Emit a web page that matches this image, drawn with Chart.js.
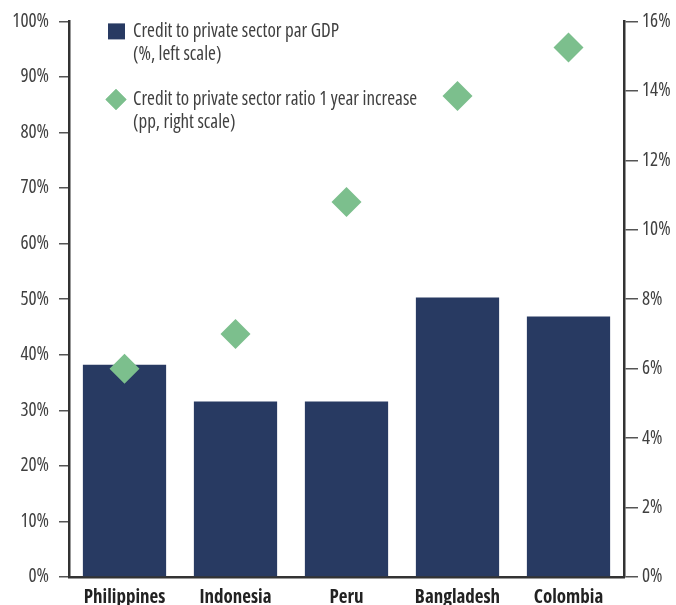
<!DOCTYPE html>
<html>
<head>
<meta charset="utf-8">
<script src="https://cdn.jsdelivr.net/npm/chart.js@4.4.0/dist/chart.umd.min.js"></script>
<style>
    html, body { margin: 0; padding: 0; background: #fff; overflow: hidden; }
    #wrap { position: relative; width: 676px; height: 605px; }
</style>
</head>
<body>
<div id="wrap"><canvas id="creditChart"></canvas></div>
<script>
// Data
const countries = ['Philippines', 'Indonesia', 'Peru', 'Bangladesh', 'Colombia'];
const creditToGdp = [38.2, 31.6, 31.6, 50.3, 46.9];        // % of GDP, left scale
const creditIncrease = [6.0, 7.0, 10.8, 13.85, 15.25];     // pp, right scale
const leftTicks = [0, 10, 20, 30, 40, 50, 60, 70, 80, 90, 100];
const rightTicks = [0, 2, 4, 6, 8, 10, 12, 14, 16];
const legendLabels = [
    ['Credit to private sector par GDP', '(%, left scale)'],
    ['Credit to private sector ratio 1 year increase', '(pp, right scale)']
];

const NAVY = '#283a62';
const GREEN = '#7cbf8d';
const TEXT = '#404040';
const FONT = "'Open Sans', sans-serif";

// Legend drawn inside the plot, top-left, with two-line labels
const insideLegend = {
    id: 'insideLegend',
    afterDraw(chart) {
        const ctx = chart.ctx;
        const area = chart.chartArea;
        const x0 = area.left + 39;
        const tx = area.left + 64;
        ctx.save();
        ctx.font = 'condensed 19px ' + FONT;
        ctx.textBaseline = 'middle';
        ctx.textAlign = 'left';

        // bar item
        let y = area.top + 10;
        ctx.fillStyle = NAVY;
        ctx.fillRect(x0, y - 8, 17, 16);
        ctx.fillStyle = TEXT;
        ctx.fillText(legendLabels[0][0], tx, y);
        ctx.fillText(legendLabels[0][1], tx, y + 23);

        // diamond item
        y = area.top + 78;
        ctx.fillStyle = GREEN;
        Chart.helpers.drawPoint(ctx, { pointStyle: 'rectRot', radius: 10.5, borderWidth: 0 }, x0 + 8, y);
        ctx.fill();
        ctx.fillStyle = TEXT;
        ctx.fillText(legendLabels[1][0], tx, y);
        ctx.fillText(legendLabels[1][1], tx, y + 23);
        ctx.restore();
    }
};

const ctx = document.getElementById('creditChart').getContext('2d');
new Chart(ctx, {
    type: 'bar',
    data: {
        labels: countries,
        datasets: [{
            label: legendLabels[1].join(' '),
            type: 'line',
            data: creditIncrease,
            yAxisID: 'y1',
            showLine: false,
            pointStyle: 'rectRot',
            pointRadius: 15,
            pointHoverRadius: 15,
            pointBackgroundColor: GREEN,
            pointBorderWidth: 0,
            order: 0
        }, {
            label: legendLabels[0].join(' '),
            data: creditToGdp,
            yAxisID: 'y',
            backgroundColor: NAVY,
            barPercentage: 0.75,
            categoryPercentage: 1.0,
            order: 1
        }]
    },
    options: {
        responsive: true,
        maintainAspectRatio: false,
        animation: false,
        layout: {
            padding: { top: 20, left: 0, right: 0, bottom: 0 }
        },
        plugins: {
            legend: { display: false },
            tooltip: { enabled: false }
        },
        scales: {
            x: {
                grid: { display: false },
                border: { display: true, color: '#333', width: 2.5 },
                ticks: {
                    color: '#222',
                    padding: 1,
                    maxRotation: 0,
                    autoSkip: false,
                    // 'condensed' rides along in the weight slot of the font shorthand
                    font: { family: FONT, size: 19, weight: 'bold condensed' }
                },
                afterFit: function(scale) { scale.height = 28; }
            },
            y: {
                position: 'left',
                min: 0,
                max: 100,
                afterBuildTicks: function(scale) {
                    scale.ticks = leftTicks.map(v => ({ value: v }));
                },
                ticks: {
                    color: TEXT,
                    padding: 10,
                    font: { family: FONT, size: 19, weight: 'condensed' },
                    callback: v => v + '%'
                },
                grid: { drawOnChartArea: false, drawTicks: true, tickLength: 10, color: '#555', lineWidth: 1.5 },
                border: { display: true, color: '#333', width: 2.5 },
                afterFit: function(scale) { scale.width = 69; }
            },
            y1: {
                position: 'right',
                min: 0,
                max: 16,
                afterBuildTicks: function(scale) {
                    scale.ticks = rightTicks.map(v => ({ value: v }));
                },
                ticks: {
                    color: TEXT,
                    padding: 4,
                    font: { family: FONT, size: 19, weight: 'condensed' },
                    callback: v => v + '%'
                },
                grid: { drawOnChartArea: false, drawTicks: true, tickLength: 14, color: '#555', lineWidth: 1.5 },
                border: { display: true, color: '#333', width: 2.5 },
                afterFit: function(scale) { scale.width = 52; }
            }
        }
    },
    plugins: [insideLegend]
});
</script>
</body>
</html>
